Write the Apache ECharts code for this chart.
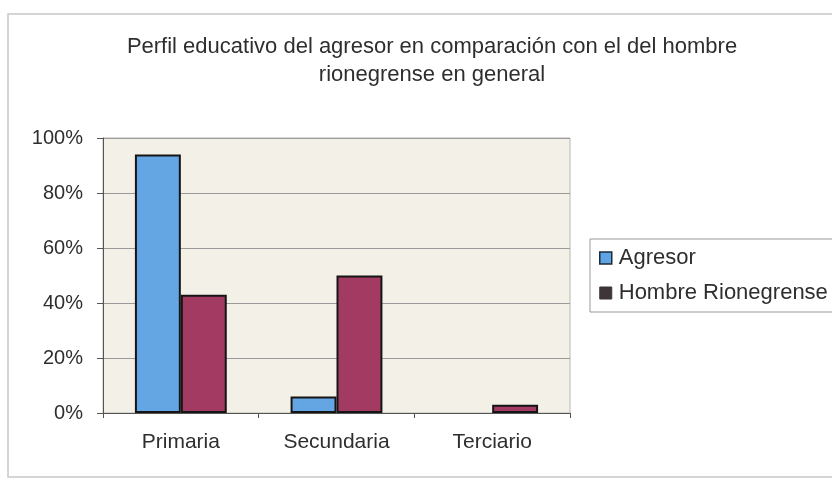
<!DOCTYPE html>
<html><head><meta charset="utf-8">
<script src="https://cdn.jsdelivr.net/npm/echarts@6/dist/echarts.min.js"></script>
<style>html,body{margin:0;padding:0;background:#fff}#c{width:832px;height:480px}</style>
</head><body><div id="c"></div>
<script>
const categories = ['Primaria', 'Secundaria', 'Terciario'];
const agresor = [0.94, 0.06, 0];
const hombre = [0.43, 0.50, 0.03];
const seriesNames = ['Agresor', 'Hombre Rionegrense'];
const yTicks = [0, 0.2, 0.4, 0.6, 0.8, 1];

const chart = echarts.init(document.getElementById('c'));
const font = 'Liberation Sans, Arial, sans-serif';
const noZero = arr => arr.map(v => v === 0 ? '-' : v);
chart.setOption({
  animation: false,
  backgroundColor: '#ffffff',
  graphic: [{
    type: 'rect', shape: {x: 8, y: 14, width: 840, height: 463},
    style: {fill: 'none', stroke: '#c8c8c8', lineWidth: 1.5}
  }],
  title: {
    text: 'Perfil educativo del agresor en comparación con el del hombre\nrionegrense en general',
    left: 427, top: 28, textAlign: 'center',
    textStyle: {fontFamily: font, fontSize: 22, fontWeight: 'normal', color: '#2e2e2e', lineHeight: 28}
  },
  legend: {
    orient: 'vertical', left: 590, top: 239,
    padding: [8, 60, 8, 9],
    itemGap: 13,
    itemWidth: 12, itemHeight: 12,
    borderColor: '#999', borderWidth: 1,
    backgroundColor: '#fff',
    textStyle: {fontFamily: font, fontSize: 22, color: '#2e2e2e', padding: [0, 0, 0, 2]},
    data: [
      {name: seriesNames[0], icon: 'rect', itemStyle: {color: '#5fa3e3', borderColor: '#1c2b3a', borderWidth: 1.5}},
      {name: seriesNames[1], icon: 'rect', itemStyle: {color: '#3d3537', borderColor: '#3d3537', borderWidth: 1}}
    ]
  },
  grid: {
    left: 103, top: 138, right: 262, bottom: 67,
    show: true, backgroundColor: '#f3f1e7', borderColor: '#b8b6ae', borderWidth: 1
  },
  xAxis: {
    type: 'category', data: categories,
    axisLine: {show: true, lineStyle: {color: '#555', width: 1}},
    axisTick: {show: true, length: 5, lineStyle: {color: '#555'}},
    axisLabel: {fontFamily: font, fontSize: 21, color: '#2e2e2e', margin: 19}
  },
  yAxis: {
    type: 'value', min: 0, max: 1, interval: 0.2,
    axisLine: {show: true, lineStyle: {color: '#555', width: 1}},
    axisTick: {show: true, length: 6, lineStyle: {color: '#555'}},
    axisLabel: {fontFamily: font, fontSize: 20, color: '#2e2e2e', margin: 20,
      formatter: v => Math.round(v * 100) + '%'},
    splitLine: {show: true, lineStyle: {color: '#9a9a9a', width: 1}}
  },
  series: [
    {name: seriesNames[0], type: 'bar', data: noZero(agresor), barGap: '0%', barCategoryGap: '41%',
     itemStyle: {color: '#64a6e4', borderColor: '#151515', borderWidth: 2}},
    {name: seriesNames[1], type: 'bar', data: noZero(hombre),
     itemStyle: {color: '#a23a62', borderColor: '#151515', borderWidth: 2}}
  ]
});
</script></body></html>
